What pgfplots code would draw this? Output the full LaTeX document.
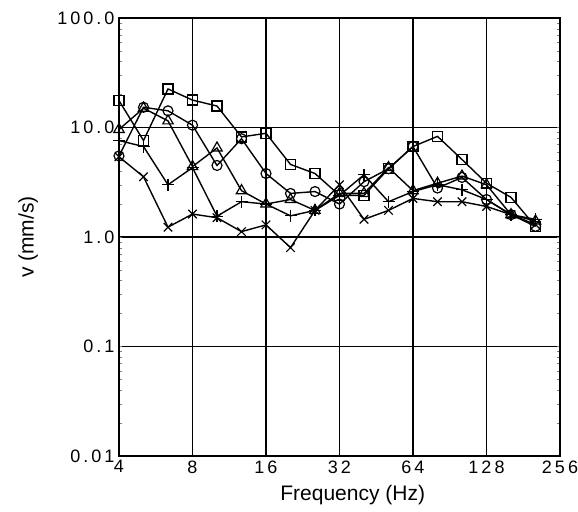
\documentclass[border=0pt]{standalone}
\usepackage{fontspec}
\setmainfont{Liberation Sans}
\usepackage{pgfplots}
\pgfplotsset{compat=1.18}
\usepackage{pgfplotstable}
\newcommand\tickfont{\fontsize{18bp}{20bp}\selectfont}
\newcommand\s{\kern3bp}
\pgfplotstableread{
f      sq     ci     tr     pl     xx
4.00   17.6   5.5    9.6    7.6    5.4
5.04   7.6    15.3   15.0   6.7    3.55
6.35   22.5   14.2   11.5   3.0    1.23
8.00   17.8   10.5   4.4    4.3    1.62
10.08  15.7   4.5    6.5    1.55   1.5
12.70  8.2    7.9    2.65   2.1    1.12
16.00  8.85   3.8    2.0    2.0    1.29
20.16  4.6    2.5    2.2    1.56   0.80
25.40  3.8    2.6    1.75   1.75   1.75
32.00  2.4    2.0    2.5    2.4    3.0
40.32  2.4    3.2    2.5    3.7    1.45
50.80  4.2    4.2    4.3    2.1    1.75
64.00  6.7    6.7    2.65   2.6    2.25
80.63  8.3    2.8    3.1    3.0    2.1
101.59 5.1    3.5    3.6    2.7    2.1
128.00 3.1    2.2    3.0    2.2    1.9
161.27 2.3    1.6    1.6    1.6    1.6
203.19 1.25   1.25   1.4    1.45   1.3
}\data
\begin{document}
\begin{tikzpicture}
\path[use as bounding box] (-119bp,-56bp) rectangle (459bp,456bp);
\begin{axis}[
  at={(0,0)}, anchor=south west,
  scale only axis, width=441bp, height=438bp,
  xmode=log, log basis x=2, ymode=log,
  xmin=4, xmax=256, ymin=0.01, ymax=100,
  xtick={4,8,16,32,64,128,256},
  xticklabels={4,8,1\s6,3\s2,6\s4,1\s2\s8,2\s5\s6},
  ytick={0.01,0.1,1,10,100},
  yticklabels={0\s.\s0\s1,0\s.\s1,1\s.\s0,1\s0\s.\s0,1\s0\s0\s.\s0},
  minor xtick={}, minor ytick={},
  major tick length=0pt,
  grid=major,
  major grid style={black, line width=1.5bp},
  axis line style={line width=1.6bp},
  tick label style={font=\tickfont},
  xticklabel style={yshift=-1bp},
  yticklabel style={xshift=-1bp},
  xlabel={Frequency (Hz)},
  ylabel={v (mm/s)},
  label style={font=\fontsize{21bp}{24bp}\selectfont},
  xlabel style={at={(axis description cs:0.53,0)}, anchor=north, yshift=-26bp},
  ylabel style={at={(axis description cs:-0.206,0.5)}, anchor=center},
]
\addplot[black, line width=1.4bp, mark=square, mark size=5bp, mark options={solid, line width=1.2bp}] table[x=f, y=sq] {\data};
\addplot[black, line width=1.4bp, mark=o, mark size=5bp, mark options={solid, line width=1.2bp}] table[x=f, y=ci] {\data};
\addplot[black, line width=1.4bp, mark=triangle, mark size=6bp, mark options={solid, line width=1.2bp}] table[x=f, y=tr] {\data};
\addplot[black, line width=1.4bp, mark=+, mark size=6bp, mark options={solid, line width=1.2bp}] table[x=f, y=pl] {\data};
\addplot[black, line width=1.4bp, mark=x, mark size=6bp, mark options={solid, line width=1.2bp}] table[x=f, y=xx] {\data};
\end{axis}
\end{tikzpicture}
\end{document}
